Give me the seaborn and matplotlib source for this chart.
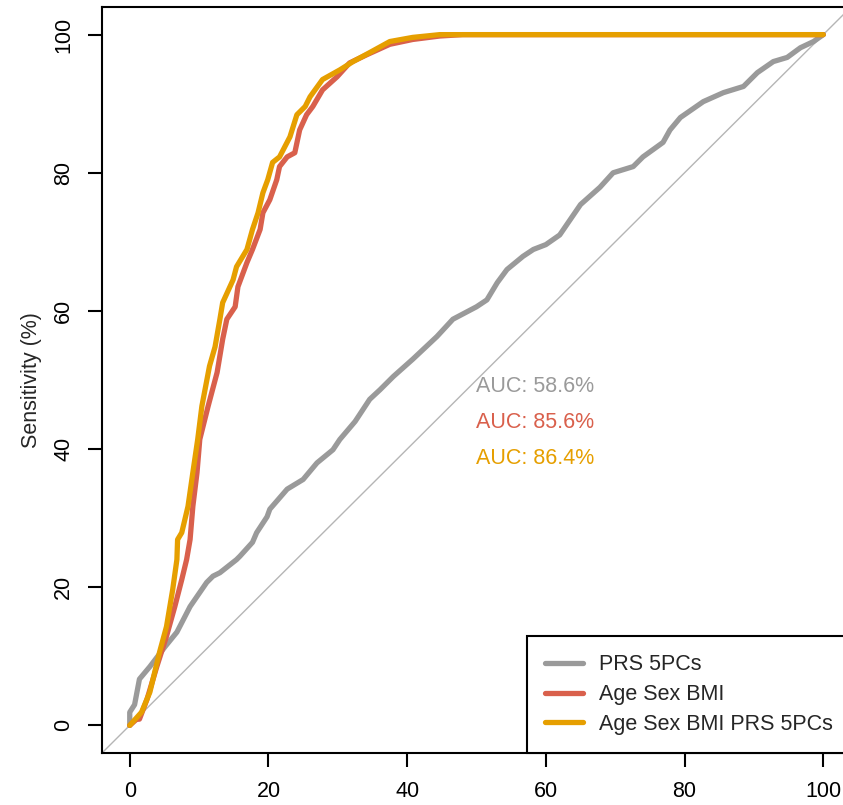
import matplotlib
matplotlib.use("Agg")
import matplotlib.pyplot as plt
import seaborn as sns
import numpy as np

# ROC curves (100 - specificity %, sensitivity %)
prs_fpr = [0, 0, 0.7, 1.4, 2.9, 5.1, 6.8, 8.7, 11.1, 12, 13, 15.4, 15.9, 17.7, 18.3, 19.8,
           20.2, 22.7, 25, 27, 29.3, 30.3, 32.5, 34.6, 36.1, 38, 40.8, 44.3, 46.6, 50, 51.5,
           53, 54.4, 56.7, 58.2, 60, 62, 65, 67.8, 69.7, 72.6, 74, 76.9, 77.9, 79.4, 82.7,
           85.6, 88.5, 90.5, 92.8, 94.8, 96.7, 98.6, 100]
prs_tpr = [0, 1.9, 3, 6.7, 8.5, 11.4, 13.5, 17.2, 20.7, 21.6, 22.1, 24, 24.5, 26.5, 27.9, 30.2,
           31.3, 34.2, 35.6, 38, 39.9, 41.4, 44, 47.2, 48.6, 50.5, 53, 56.3, 58.8, 60.6, 61.6,
           64.1, 66, 67.9, 68.9, 69.6, 71, 75.4, 77.9, 80, 80.9, 82.3, 84.4, 86.2, 88, 90.3,
           91.6, 92.5, 94.5, 96.1, 96.7, 98.1, 99, 100]

asb_fpr = [0, 1, 1.4, 2.5, 3.9, 5.3, 6.5, 7.5, 8.2, 8.7, 9.1, 9.7, 10.1, 11.3, 12.6, 13.4, 14,
           15.2, 15.6, 16.9, 17.7, 18.8, 19.2, 20.2, 21.2, 21.6, 22.7, 23.8, 24.5, 25.5, 26.4,
           27.8, 29.9, 31.7, 34.2, 37.5, 40.8, 44.7, 48, 100]
asb_tpr = [0, 0.9, 0.9, 3.8, 8.5, 12.9, 17.2, 21.1, 24, 26.9, 31.7, 36.6, 41.4, 46.2, 51.1,
           55.9, 58.8, 60.6, 63.5, 67, 68.9, 71.8, 74.2, 76.1, 79, 80.9, 82.3, 82.9, 86.2, 88.4,
           89.6, 92, 93.9, 95.9, 97.1, 98.6, 99.3, 99.8, 100, 100]

all_fpr = [0, 1.7, 2.9, 4.3, 5.3, 6.2, 6.8, 6.9, 7.5, 8.4, 9.1, 9.8, 10.4, 11.5, 12.3, 13, 13.4,
           14.9, 15.4, 16.9, 17.7, 18.5, 19.2, 19.9, 20.6, 21.6, 23.1, 24.1, 25.3, 26, 27.8,
           30.3, 32.2, 34.6, 37.5, 40.8, 44.7, 100]
all_tpr = [0, 1.9, 4.8, 10.6, 14.3, 19.7, 24, 26.9, 27.9, 31.7, 36.6, 41.4, 46.2, 52, 54.8,
           58.8, 61.2, 64.5, 66.4, 68.9, 71.8, 74.2, 77.1, 79, 81.5, 82.3, 85.2, 88.4, 89.6, 91,
           93.5, 94.9, 96.1, 97.4, 99, 99.6, 100, 100]

labels = ["PRS 5PCs", "Age Sex BMI", "Age Sex BMI PRS 5PCs"]
auc_text = ["AUC: 58.6%", "AUC: 85.6%", "AUC: 86.4%"]
auc_y = [49, 43.9, 38.7]
colors = ["#9a9a9a", "#d9604c", "#e69f00"]

sns.set_style("white")
plt.rcParams["font.family"] = ["Liberation Sans", "DejaVu Sans"]
fs = 15.5

fig = plt.figure(figsize=(8.43, 8.05), dpi=100)
ax = fig.add_axes([102 / 843, 52 / 805, 749 / 843, 746 / 805])

# chance diagonal across the whole box
ax.plot([-4, 104], [-4, 104], color="#b5b5b5", lw=1, zorder=1)

curves = [(prs_fpr, prs_tpr), (asb_fpr, asb_tpr), (all_fpr, all_tpr)]
for (fx, ty), lab, col in zip(curves, labels, colors):
    sns.lineplot(x=fx, y=ty, sort=False, estimator=None, color=col, lw=3.8,
                 label=lab, ax=ax, zorder=2)

for txt, yy, col in zip(auc_text, auc_y, colors):
    ax.text(50, yy, txt, color=col, fontsize=fs, ha="left", va="center")

ax.set_xlim(-4, 104)
ax.set_ylim(-4, 104)
ax.set_xticks(np.arange(0, 101, 20))
ax.set_yticks(np.arange(0, 101, 20))
ax.tick_params(axis="both", direction="out", length=10, width=1.5, colors="black",
               labelsize=fs, pad=10, left=True, bottom=True)
for lab in ax.get_yticklabels():
    lab.set_rotation(90)
    lab.set_va("center")
for s in ax.spines.values():
    s.set_visible(True)
    s.set_color("black")
    s.set_linewidth(1.5)

ax.set_ylabel("Sensitivity (%)", fontsize=fs)
ax.yaxis.set_label_coords(-0.094, 0.5)
ax.yaxis.label.set_va("center")
ax.set_xlabel("")

leg = ax.legend(loc="lower right", bbox_to_anchor=(1, 0), borderaxespad=0,
                frameon=True, fancybox=False, framealpha=1, edgecolor="black",
                fontsize=fs, handlelength=1.75, handletextpad=0.75, borderpad=0.85,
                labelspacing=0.4)
leg.get_frame().set_linewidth(1.5)

fig.savefig("out.png", dpi=100)
